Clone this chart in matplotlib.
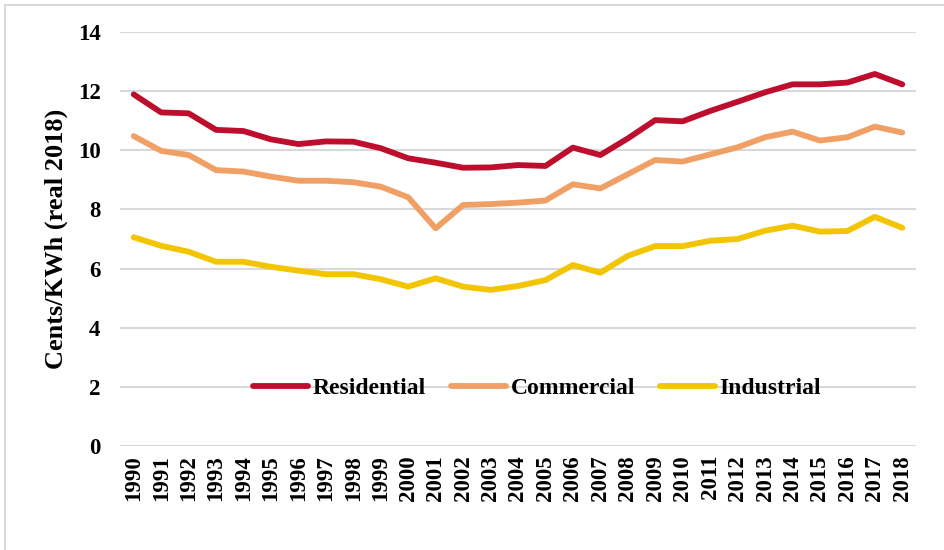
import matplotlib.pyplot as plt
from matplotlib.patches import Rectangle

years = [str(y) for y in range(1990, 2019)]

residential = [11.89, 11.28, 11.25, 10.69, 10.65, 10.37, 10.21, 10.30, 10.29, 10.07,
               9.73, 9.58, 9.41, 9.42, 9.50, 9.47, 10.09, 9.84, 10.40, 11.02,
               10.98, 11.33, 11.64, 11.96, 12.23, 12.23, 12.29, 12.58, 12.23]
commercial = [10.48, 9.98, 9.84, 9.33, 9.28, 9.11, 8.97, 8.97, 8.92, 8.77,
              8.41, 7.36, 8.15, 8.18, 8.23, 8.30, 8.85, 8.71, 9.19, 9.67,
              9.62, 9.86, 10.10, 10.44, 10.63, 10.33, 10.44, 10.80, 10.60]
industrial = [7.06, 6.77, 6.57, 6.23, 6.23, 6.06, 5.93, 5.81, 5.81, 5.64,
              5.39, 5.67, 5.39, 5.28, 5.41, 5.61, 6.12, 5.86, 6.43, 6.76,
              6.76, 6.94, 7.00, 7.28, 7.45, 7.25, 7.27, 7.75, 7.38]

plt.rcParams['font.family'] = 'Liberation Serif'
plt.rcParams['font.weight'] = 'bold'

fig = plt.figure(figsize=(9.44, 5.5), dpi=100)
ax = fig.add_axes([120 / 944, 1 - 446 / 550, 796 / 944, 414 / 550])

x = range(len(years))
ax.plot(x, residential, color='#BE0E2E', lw=4.2, label='Residential', solid_capstyle='round')
ax.plot(x, commercial, color='#F0A064', lw=4.2, label='Commercial', solid_capstyle='round')
ax.plot(x, industrial, color='#F2C500', lw=4.2, label='Industrial', solid_capstyle='round')

ax.set_xlim(-0.5, len(years) - 0.5)
ax.set_ylim(0, 14)
ax.set_yticks(range(0, 15, 2))
ax.set_xticks(list(x))
ax.set_xticklabels(years, rotation=90, fontsize=16.5, fontweight='bold')
for t in ax.get_yticklabels():
    t.set_fontsize(16.5)
    t.set_fontweight('bold')
ax.tick_params(length=0)
ax.tick_params(axis='y', pad=14)
ax.tick_params(axis='x', pad=6.5)
ax.grid(axis='y', color='#D9D9D9', lw=1.5)
ax.set_axisbelow(True)
for s in ax.spines.values():
    s.set_visible(False)

ax.set_ylabel('Cents/KWh (real 2018)', fontsize=19, fontweight='bold')
ax.yaxis.set_label_coords(-0.0653, 0.5)

ax.legend(loc='center', bbox_to_anchor=(0.524, 0.14), ncol=3, frameon=False,
          prop={'size': 17, 'weight': 'bold'}, handlelength=2.33,
          handletextpad=0.2, columnspacing=1.05)

fig.patches.append(Rectangle((5 / 944, -0.1), 1.1, 1 - 5 / 550 + 0.1, transform=fig.transFigure,
                             fill=False, edgecolor='#D9D9D9', lw=1.5))

fig.savefig('out.png', dpi=100)
